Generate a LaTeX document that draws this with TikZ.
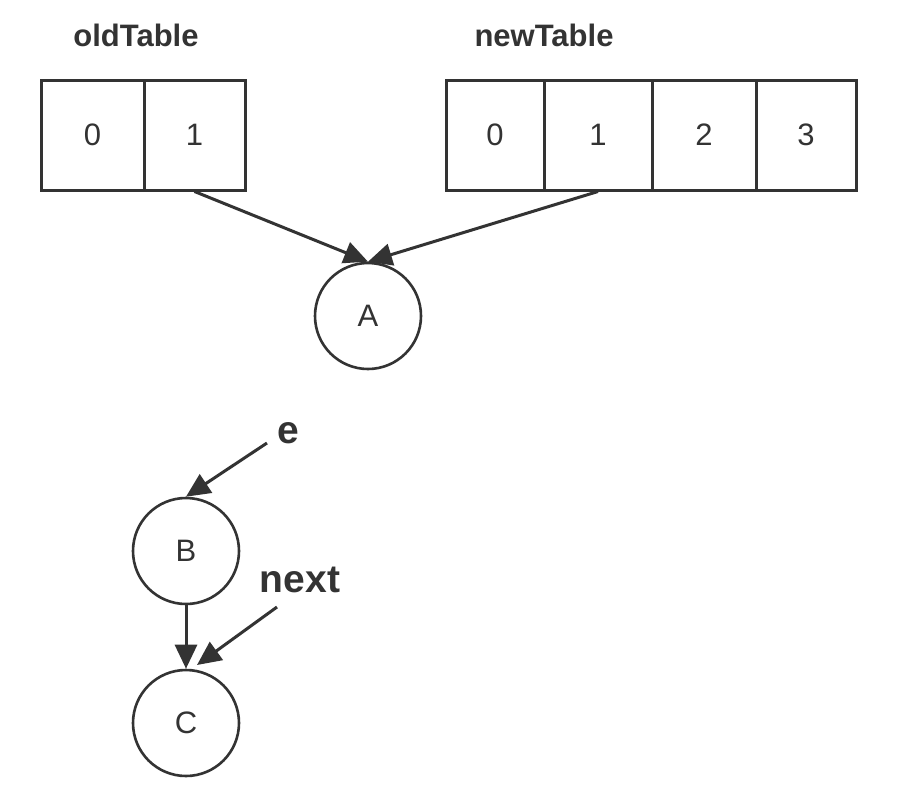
\documentclass[tikz,border=0pt]{standalone}
\usepackage{fontspec}
\setmainfont{Liberation Sans}
\usetikzlibrary{arrows.meta}
\definecolor{ink}{HTML}{333333}
\begin{document}
\begin{tikzpicture}[x=1pt,y=-1pt,
  cell/.style={draw=ink,line width=3pt,rectangle,inner sep=0pt,minimum height=110pt,font=\fontsize{31}{33}\selectfont,text=ink},
  circ/.style={draw=ink,line width=2.6pt,circle,inner sep=0pt,minimum size=106pt,font=\fontsize{31}{33}\selectfont,text=ink},
  title/.style={font=\bfseries\fontsize{31}{33}\selectfont,text=ink,anchor=base,inner sep=0pt},
  ptr/.style={font=\bfseries\fontsize{39}{42}\selectfont,text=ink,anchor=base,inner sep=0pt},
  arr/.style={draw=ink,line width=3pt,-{Triangle[length=24pt,width=22pt]}}
]
\useasboundingbox[fill=white] (0,0) rectangle (906,804);
% old table
\node[cell,minimum width=103pt] (o0) at (92.5,135) {0};
\node[cell,minimum width=101pt] (o1) at (194.5,135) {1};
\node[title] (oldt) at (136,46) {oldTable};
% new table
\node[cell,minimum width=98pt] (n0) at (495,135) {0};
\node[cell,minimum width=108pt] (n1) at (598,135) {1};
\node[cell,minimum width=104pt] (n2) at (704,135) {2};
\node[cell,minimum width=100pt] (n3) at (806,135) {3};
\node[title] (newt) at (544,46) {newTable};
% nodes
\node[circ] (A) at (368,316) {A};
\node[circ] (B) at (186,551) {B};
\node[circ] (C) at (186,723) {C};
\node[ptr] (e) at (288,443) {e};
\node[ptr] (nx) at (300,592) {next};
\coordinate (es) at (267,443);
\coordinate (ns) at (277,607);
\coordinate (ct) at (197,665);
% arrows
\draw[arr] (o1.south) -- (A.north);
\draw[arr] (n1.south) -- (A.north);
\draw[arr] (es) -- (B.north);
\draw[arr] (B.south) -- (C.north);
\draw[arr] (ns) -- (ct);
\end{tikzpicture}
\end{document}
